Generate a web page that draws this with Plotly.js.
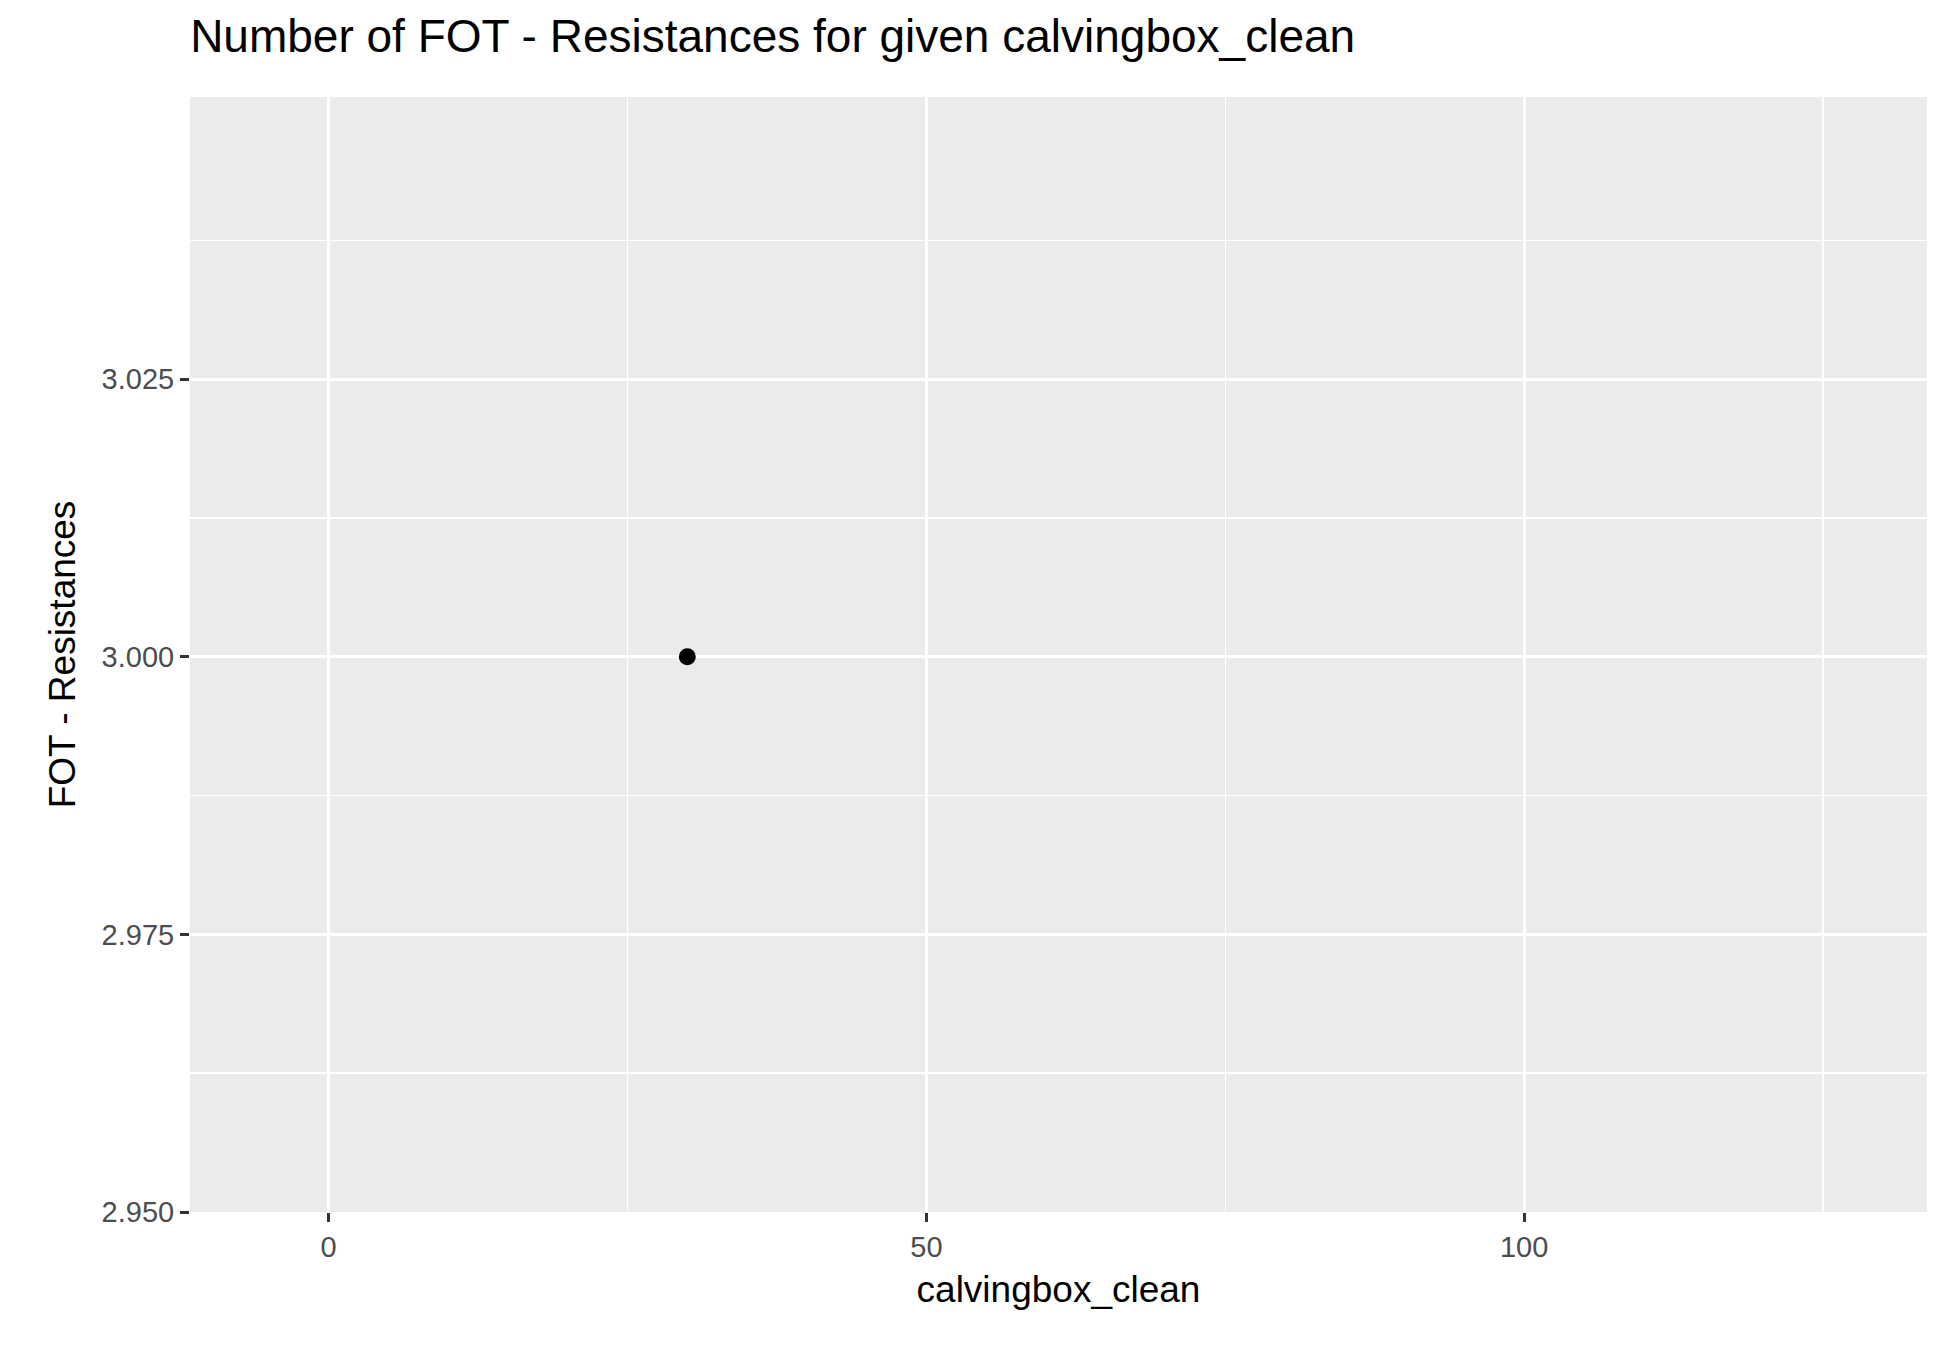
<!DOCTYPE html>
<html>
<head>
<script src="https://cdn.plot.ly/plotly-3.0.1.min.js"></script>
<style>body{margin:0;background:#fff}</style>
</head>
<body>
<div id="chart" style="width:1950px;height:1349px"></div>
<script>
var calvingboxClean = [30];
var fotResistances = [3];
var yTicks = [2.95, 2.975, 3.0, 3.025];
var yTickText = ["2.950", "2.975", "3.000", "3.025"];
var xTicks = [0, 50, 100];

var trace =
{
    x: calvingboxClean,
    y: fotResistances,
    mode: "markers",
    type: "scatter",
    marker: { color: "#000000", size: 17 },
    hoverinfo: "x+y"
};

var axisFont = { family: "Liberation Sans, Arial, sans-serif", size: 29, color: "#4d4d4d" };

var layout =
{
    width: 1950,
    height: 1349,
    paper_bgcolor: "#ffffff",
    plot_bgcolor: "#ebebeb",
    showlegend: false,
    margin: { l: 190, r: 23, t: 97, b: 137 },
    font: { family: "Liberation Sans, Arial, sans-serif", color: "#000000" },
    title: { text: "Number of FOT - Resistances for given calvingbox_clean", x: 0.0975, xanchor: "left", y: 0.985, yanchor: "top", font: { size: 46, color: "#000000" } },
    xaxis:
    {
        range: [-11.6, 133.7],
        tickvals: xTicks,
        ticks: "outside", ticklen: 9, tickwidth: 3, tickcolor: "#333333",
        tickfont: axisFont,
        showgrid: true, gridcolor: "#ffffff", gridwidth: 3,
        minor: { dtick: 25, tick0: 25, showgrid: true, gridcolor: "#ffffff", gridwidth: 1.5 },
        zeroline: false, showline: false,
        title: { text: "calvingbox_clean", font: { size: 37, color: "#000000" }, standoff: 14 }
    },
    yaxis:
    {
        range: [2.95, 3.0504],
        tickvals: yTicks,
        ticktext: yTickText,
        ticks: "outside", ticklen: 9, tickwidth: 3, tickcolor: "#333333",
        tickfont: axisFont,
        showgrid: true, gridcolor: "#ffffff", gridwidth: 3,
        minor: { dtick: 0.025, tick0: 2.9625, showgrid: true, gridcolor: "#ffffff", gridwidth: 1.5 },
        zeroline: false, showline: false,
        title: { text: "FOT - Resistances", font: { size: 37, color: "#000000" }, standoff: 14 }
    }
};

Plotly.newPlot("chart", [trace], layout, { displayModeBar: false, staticPlot: true });
</script>
</body>
</html>
